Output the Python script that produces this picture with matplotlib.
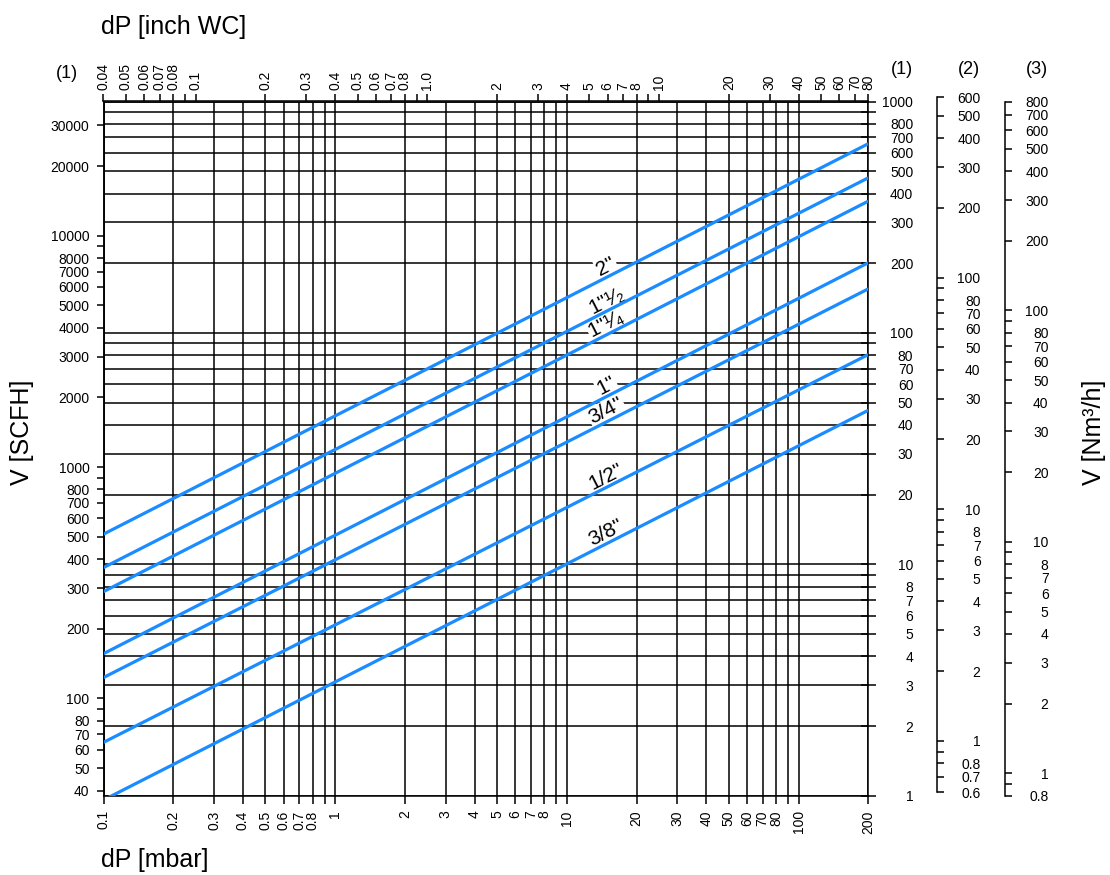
import numpy as np
import matplotlib
matplotlib.use('Agg')
import matplotlib.pyplot as plt
from matplotlib.ticker import NullLocator

plt.rcParams['font.family'] = ['Liberation Sans', 'DejaVu Sans']

# ---------------- data ----------------
pipe_sizes = ['2"', '1"\u00b9\u2044\u2082', '1"\u00b9\u2044\u2084', '1"', '3/4"', '1/2"', '3/8"']
dp_range = [0.1, 200]                       # mbar
flow_at_dp_min = [13.5, 9.68, 7.62, 4.11, 3.24, 1.70, 0.958]   # Nm3/h (1) at 0.1 mbar
flow_at_dp_max = [657, 468, 371, 201, 155, 80.6, 46.3]         # Nm3/h (1) at 200 mbar

dp_ticks = [0.1, 0.2, 0.3, 0.4, 0.5, 0.6, 0.7, 0.8, 0.9, 1, 2, 3, 4, 5, 6, 7, 8, 9,
            10, 20, 30, 40, 50, 60, 70, 80, 90, 100, 200]
dp_labels = ['0.1', '0.2', '0.3', '0.4', '0.5', '0.6', '0.7', '0.8', '', '1', '2', '3', '4',
             '5', '6', '7', '8', '', '10', '20', '30', '40', '50', '60', '70', '80', '',
             '100', '200']

inwc_ticks = [0.04, 0.05, 0.06, 0.07, 0.08, 0.09, 0.1, 0.2, 0.3, 0.4, 0.5, 0.6, 0.7, 0.8,
              0.9, 1.0, 2, 3, 4, 5, 6, 7, 8, 9, 10, 20, 30, 40, 50, 60, 70, 80]
inwc_labels = ['0.04', '0.05', '0.06', '0.07', '0.08', '', '0.1', '0.2', '0.3', '0.4', '0.5',
               '0.6', '0.7', '0.8', '', '1.0', '2', '3', '4', '5', '6', '7', '8', '', '10',
               '20', '30', '40', '50', '60', '70', '80']

flow1_ticks = [1, 2, 3, 4, 5, 6, 7, 8, 9, 10, 20, 30, 40, 50, 60, 70, 80, 90, 100,
               200, 300, 400, 500, 600, 700, 800, 900, 1000]
flow1_labels = ['1', '2', '3', '4', '5', '6', '7', '8', '', '10', '20', '30', '40', '50',
                '60', '70', '80', '', '100', '200', '300', '400', '500', '600', '700', '800',
                '', '1000']

scfh_ticks = [40, 50, 60, 70, 80, 90, 100, 200, 300, 400, 500, 600, 700, 800, 900, 1000,
              2000, 3000, 4000, 5000, 6000, 7000, 8000, 9000, 10000, 20000, 30000]
scfh_labels = ['40', '50', '60', '70', '80', '', '100', '200', '300', '400', '500', '600',
               '700', '800', '', '1000', '2000', '3000', '4000', '5000', '6000', '7000',
               '8000', '', '10000', '20000', '30000']

flow2_ticks = [0.6, 0.7, 0.8, 0.9, 1, 2, 3, 4, 5, 6, 7, 8, 9, 10, 20, 30, 40, 50, 60, 70,
               80, 90, 100, 200, 300, 400, 500, 600]
flow2_labels = ['0.6', '0.7', '0.8', '', '1', '2', '3', '4', '5', '6', '7', '8', '', '10',
                '20', '30', '40', '50', '60', '70', '80', '', '100', '200', '300', '400',
                '500', '600']

flow3_ticks = [0.8, 0.9, 1, 2, 3, 4, 5, 6, 7, 8, 9, 10, 20, 30, 40, 50, 60, 70, 80, 90,
               100, 200, 300, 400, 500, 600, 700, 800]
flow3_labels = ['0.8', '', '1', '2', '3', '4', '5', '6', '7', '8', '', '10', '20', '30',
                '40', '50', '60', '70', '80', '', '100', '200', '300', '400', '500', '600',
                '700', '800']

SCFH_PER_NM3H = 38.0
INWC_PER_MBAR = 0.4
SCALE2 = 0.574
SCALE3 = 0.8

# ---------------- layout ----------------
W, H = 1110, 875
fig = plt.figure(figsize=(W / 100, H / 100), dpi=100)


def px_rect(x0, y0, x1, y1):
    return [x0 / W, 1 - y1 / H, (x1 - x0) / W, (y1 - y0) / H]


BLUE = '#1a8cff'
TICKFS = 10
LW = 1.1

ax = fig.add_axes(px_rect(103.5, 101.5, 868.3, 795.7))
ax.set_xscale('log')
ax.set_yscale('log')
ax.set_xlim(0.1, 200)
ax.set_ylim(1, 1000)
for s in ax.spines.values():
    s.set_linewidth(LW)

ax.set_xticks(dp_ticks)
ax.set_xticklabels(dp_labels, rotation=90, fontsize=TICKFS)
ax.xaxis.set_minor_locator(NullLocator())
ax.tick_params(axis='x', direction='out', length=5.5, width=LW, pad=5)

ax.yaxis.tick_right()
ax.set_yticks(flow1_ticks)
ax.set_yticklabels(flow1_labels, fontsize=TICKFS, ha='right')
ax.yaxis.set_minor_locator(NullLocator())
ax.tick_params(axis='y', which='both', direction='inout', length=10.8, width=LW, pad=27)

ax.grid(True, which='major', color='black', linewidth=1.1)
ax.set_axisbelow(True)

# left SCFH axis
axl = ax.secondary_yaxis('left', functions=(lambda v: v * SCFH_PER_NM3H,
                                            lambda s: s / SCFH_PER_NM3H))
axl.set_yticks(scfh_ticks)
axl.set_yticklabels(scfh_labels, fontsize=TICKFS)
axl.yaxis.set_minor_locator(NullLocator())
axl.tick_params(direction='out', length=5, width=LW, pad=5)
axl.spines['left'].set_linewidth(LW)

# top inch WC axis
axt = ax.secondary_xaxis('top', functions=(lambda p: p * INWC_PER_MBAR,
                                           lambda w: w / INWC_PER_MBAR))
axt.set_xlim(0.0399, 80.01)
axt.set_xticks(inwc_ticks)
axt.set_xticklabels(inwc_labels, rotation=90, fontsize=TICKFS)
axt.xaxis.set_minor_locator(NullLocator())
axt.tick_params(direction='out', length=5, width=LW, pad=3)
axt.spines['top'].set_linewidth(LW)

# flow lines
for lo, hi in zip(flow_at_dp_min, flow_at_dp_max):
    ax.plot(dp_range, [lo, hi], color=BLUE, linewidth=2.3, zorder=4,
            solid_capstyle='butt')

# line labels
LABEL_DP = 14.8
fig.canvas.draw()
for name, lo, hi in zip(pipe_sizes, flow_at_dp_min, flow_at_dp_max):
    t = (np.log10(LABEL_DP) - np.log10(dp_range[0])) / (np.log10(dp_range[1]) - np.log10(dp_range[0]))
    yv = 10 ** (np.log10(lo) + t * (np.log10(hi) - np.log10(lo)))
    p0 = ax.transData.transform((dp_range[0], lo))
    p1 = ax.transData.transform((dp_range[1], hi))
    ang = np.degrees(np.arctan2(p1[1] - p0[1], p1[0] - p0[0]))
    ax.annotate(name, (LABEL_DP, yv), xytext=(0, 11), textcoords='offset pixels',
                ha='center', va='center', rotation=ang, rotation_mode='anchor',
                fontsize=15, zorder=3,
                bbox=dict(boxstyle='square,pad=0.05', fc='white', ec='none'))


def side_axis(x_px, top_px, bot_px, lim, ticks, labels):
    a = fig.add_axes(px_rect(x_px - 0.5, top_px, x_px + 0.5, bot_px))
    a.set_yscale('log')
    a.set_ylim(*lim)
    a.patch.set_visible(False)
    for k in ('left', 'top', 'bottom'):
        a.spines[k].set_visible(False)
    a.spines['right'].set_linewidth(LW)
    a.set_xticks([])
    a.yaxis.tick_right()
    a.set_yticks(ticks)
    a.set_yticklabels(labels, fontsize=TICKFS, ha='right')
    a.yaxis.set_minor_locator(NullLocator())
    a.tick_params(axis='y', direction='out', length=5, width=LW, pad=26.7)
    return a


side_axis(936, 97.3, 792.3, (flow2_ticks[0], flow2_ticks[-1]), flow2_ticks, flow2_labels)
side_axis(1004, 101.5, 795.7, (flow3_ticks[0], flow3_ticks[-1]), flow3_ticks, flow3_labels)

# titles / labels
fig.text(67 / W, 1 - 74 / H, '(1)', fontsize=13, ha='center', va='center')
fig.text(902 / W, 1 - 70 / H, '(1)', fontsize=13, ha='center', va='center')
fig.text(968.5 / W, 1 - 70 / H, '(2)', fontsize=13, ha='center', va='center')
fig.text(1037 / W, 1 - 70 / H, '(3)', fontsize=13, ha='center', va='center')

fig.text(101 / W, 1 - 27 / H, 'dP [inch WC]', fontsize=18, ha='left', va='center')
fig.text(101 / W, 1 - 860 / H, 'dP [mbar]', fontsize=18, ha='left', va='center')
fig.text(22 / W, 1 - 432 / H, 'V [SCFH]', fontsize=18, ha='center', va='center', rotation=90)
fig.text(1094 / W, 1 - 432 / H, 'V [Nm\u00b3/h]', fontsize=18, ha='center', va='center',
         rotation=90)

fig.savefig('out.png', dpi=100)
